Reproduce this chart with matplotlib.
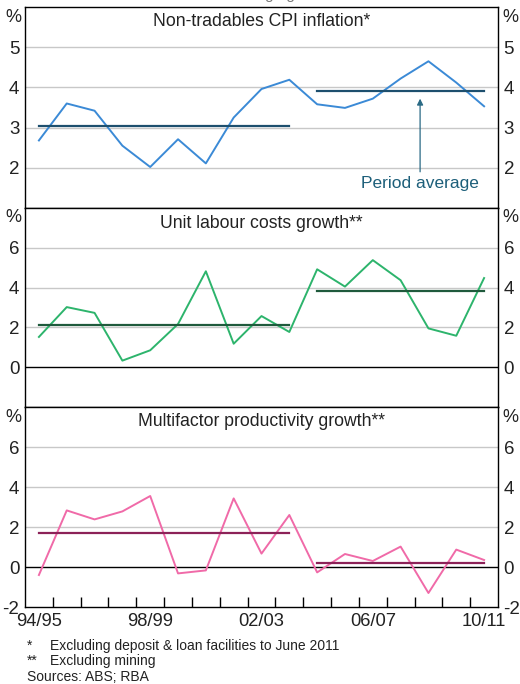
import matplotlib
matplotlib.use("Agg")
import matplotlib.pyplot as plt

plt.rcParams.update({"font.family": ["Liberation Sans", "DejaVu Sans"], "font.size": 12})

YEARS = ["94/95", "95/96", "96/97", "97/98", "98/99", "99/00", "00/01", "01/02", "02/03",
         "03/04", "04/05", "05/06", "06/07", "07/08", "08/09", "09/10", "10/11"]
LABELLED = ["94/95", "98/99", "02/03", "06/07", "10/11"]

CPI = [2.68, 3.60, 3.42, 2.55, 2.02, 2.71, 2.11, 3.25, 3.96, 4.19,
       3.58, 3.49, 3.72, 4.22, 4.65, 4.12, 3.53]
ULC = [1.52, 3.02, 2.73, 0.33, 0.85, 2.17, 4.82, 1.18, 2.57, 1.77,
       4.92, 4.05, 5.38, 4.37, 1.95, 1.58, 4.48]
MFP = [-0.40, 2.83, 2.38, 2.78, 3.55, -0.32, -0.17, 3.43, 0.67, 2.60,
       -0.27, 0.65, 0.30, 1.02, -1.30, 0.87, 0.35]
# period averages: 94/95-03/04 and 04/05-10/11
CPI_AVG = [3.05, 3.90]
ULC_AVG = [2.10, 3.82]
MFP_AVG = [1.72, 0.22]
SPLIT = 10  # first year of the second period

PANELS = [
    ("Non-tradables CPI inflation*", CPI, CPI_AVG, "#3b8ad6", "#1d4f6e", (1, 6), [2, 3, 4, 5]),
    ("Unit labour costs growth**", ULC, ULC_AVG, "#2db46c", "#1f5a3c", (-2, 8), [0, 2, 4, 6]),
    ("Multifactor productivity growth**", MFP, MFP_AVG, "#f06aa8", "#8c2258", (-2, 8), [-2, 0, 2, 4, 6]),
]
TXT = "#222222"

W, H = 520, 684
fig = plt.figure(figsize=(W / 100, H / 100), dpi=100)
edges = [7, 208, 407, 607]
L, R = 25, 498
x = list(range(len(YEARS)))

axes = []
for i, (title, vals, avg, col, acol, ylim, ticks) in enumerate(PANELS):
    top, bot = edges[i], edges[i + 1]
    ax = fig.add_axes([L / W, 1 - bot / H, (R - L) / W, (bot - top) / H])
    axes.append(ax)
    ax.set_xlim(-0.5, len(YEARS) - 0.5)
    ax.set_ylim(*ylim)
    for t in ticks:
        if t == 0:
            ax.axhline(0, color="black", lw=1.0, zorder=1)
        elif t > ylim[0]:
            ax.axhline(t, color="#c8c8c8", lw=1.0, zorder=0)
    ax.plot(x, vals, color=col, lw=1.4, zorder=3)
    ax.plot([x[0], x[SPLIT - 1]], [avg[0]] * 2, color=acol, lw=1.6, zorder=4)
    ax.plot([x[SPLIT], x[-1]], [avg[1]] * 2, color=acol, lw=1.6, zorder=4)
    ax.set_yticks(ticks)
    ax.set_yticklabels([str(t) for t in ticks])
    ax.tick_params(axis="y", length=0, labelsize=13.5, pad=4, labelright=True, right=False,
                   left=False, colors=TXT)
    ax.text(0.5, 1 - 15 / (bot - top), title, transform=ax.transAxes, ha="center",
            va="center", fontsize=12.7, color=TXT)
    ax.text(-12 / (R - L), 1 - 10 / (bot - top), "%", transform=ax.transAxes,
            ha="center", va="center", fontsize=13, color=TXT)
    ax.text(1 + 12 / (R - L), 1 - 10 / (bot - top), "%", transform=ax.transAxes,
            ha="center", va="center", fontsize=13, color=TXT)
    for s in ax.spines.values():
        s.set_color("black")
        s.set_linewidth(1.0)
    if i < 2:
        ax.set_xticks([])

# period average annotation
ax0 = axes[0]
ax0.annotate("", xy=(13.7, 3.72), xytext=(13.7, 1.9),
             arrowprops=dict(arrowstyle="-|>", color="#2a6a85", lw=0.9, mutation_scale=9,
                             shrinkA=0, shrinkB=0))
ax0.text(13.7, 1.6, "Period average", ha="center", va="center", fontsize=12.5,
         color="#1d5f7a")

# bottom axis
ax3 = axes[2]
ax3.set_xticks([i + 0.5 for i in range(len(YEARS) - 1)], minor=True)
ax3.set_xticks([YEARS.index(y) for y in LABELLED])
ax3.set_xticklabels(LABELLED)
ax3.tick_params(axis="x", which="major", length=0, labelsize=13.2, pad=4, colors=TXT)
ax3.tick_params(axis="x", which="minor", direction="in", length=7, width=1.0, color="black",
                top=False)

fig.text(262 / W, 1 + 1 / H, "Year-average growth", ha="center", va="baseline",
         fontsize=11, color="#777777")

fn = 10
fig.text(27 / W, 1 - 646 / H, "*", ha="left", va="center", fontsize=fn, color=TXT)
fig.text(50 / W, 1 - 646 / H, "Excluding deposit & loan facilities to June 2011", ha="left",
         va="center", fontsize=fn, color=TXT)
fig.text(27 / W, 1 - 661 / H, "**", ha="left", va="center", fontsize=fn, color=TXT)
fig.text(50 / W, 1 - 661 / H, "Excluding mining", ha="left", va="center", fontsize=fn,
         color=TXT)
fig.text(27 / W, 1 - 677 / H, "Sources: ABS; RBA", ha="left", va="center", fontsize=fn,
         color=TXT)

fig.savefig("out.png", dpi=100)
